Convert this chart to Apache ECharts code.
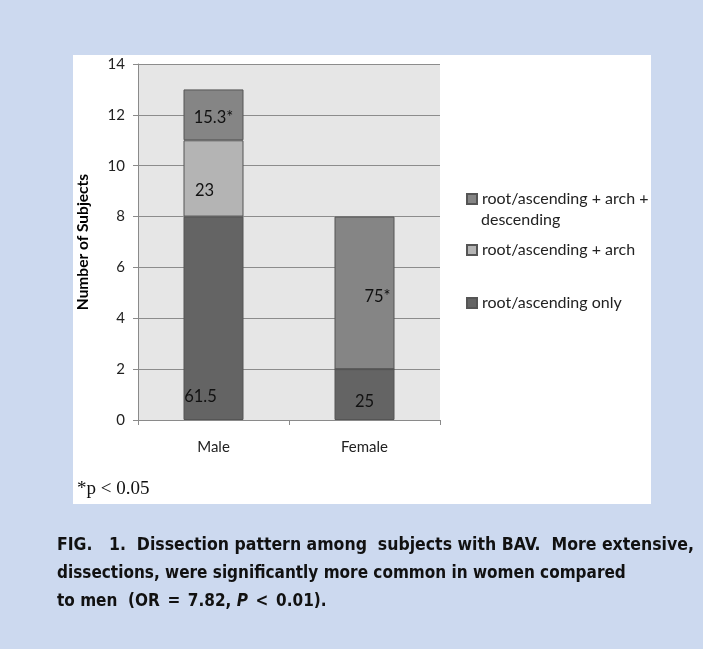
<!DOCTYPE html>
<html>
<head>
<meta charset="utf-8">
<script src="https://cdn.jsdelivr.net/npm/echarts@6/dist/echarts.min.js"></script>
<style>
html,body{margin:0;padding:0;}
#wrap{position:relative;width:703px;height:649px;background:#ccd9ef;overflow:hidden;}
#panel{position:absolute;left:73px;top:55px;width:578px;height:449px;background:#ffffff;}
#chart{position:absolute;left:0;top:0;width:703px;height:649px;}
</style>
</head>
<body>
<div id="wrap"><div id="panel"></div><div id="chart"></div></div>
<script>
// ---- data ----
var categories = ['Male', 'Female'];
var seriesNames = ['root/ascending only', 'root/ascending + arch', 'root/ascending + arch + descending'];
var rootOnly = [8, 2];
var rootArch = [3, 0];
var rootArchDesc = [2, 6];
var rootOnlyLabels = ['61.5', '25'];
var rootArchLabels = ['23', ''];
var rootArchDescLabels = ['15.3*', '75*'];
var yTicks = [0, 2, 4, 6, 8, 10, 12, 14];

// ---- styles ----
var colors = ['#646464', '#b4b4b4', '#858585'];
var labelOffsets = [
  [[-13, 78], [0, 7]],
  [[-9, 12], [0, 0]],
  [[0, 3], [13, 4]]
];
var font = 'Lato, "Open Sans", sans-serif';

var values = [rootOnly, rootArch, rootArchDesc];
var labels = [rootOnlyLabels, rootArchLabels, rootArchDescLabels];

var series = values.map(function (vals, si) {
  return {
    name: seriesNames[si],
    type: 'bar',
    stack: 'total',
    barWidth: 60,
    itemStyle: { color: colors[si], borderColor: '#555555', borderWidth: 1 },
    label: {
      show: true,
      position: 'inside',
      color: '#111',
      fontFamily: font,
      fontSize: 16.5,
      formatter: function (p) { return labels[si][p.dataIndex]; }
    },
    data: vals.map(function (v, di) {
      return { value: v, label: { offset: labelOffsets[si][di] } };
    })
  };
});

var legendTops = [191, 242, 295];
var legendOrder = [2, 1, 0];
var legendDisplay = ['root/ascending + arch +', 'root/ascending + arch', 'root/ascending only'];
var legends = legendOrder.map(function (si, i) {
  return {
    left: 466,
    top: legendTops[i],
    orient: 'vertical',
    itemWidth: 10,
    itemHeight: 10,
    itemGap: 0,
    padding: 0,
    selectedMode: false,
    data: [{ name: seriesNames[si], icon: 'rect' }],
    formatter: function () { return legendDisplay[i]; },
    textStyle: { fontFamily: font, fontSize: 16, color: '#222' }
  };
});

var chart = echarts.init(document.getElementById('chart'), null, { renderer: 'canvas' });
chart.setOption({
  backgroundColor: 'transparent',
  animation: false,
  grid: {
    left: 138, top: 64, width: 302, height: 356,
    show: true, backgroundColor: '#e6e6e6', borderWidth: 0
  },
  legend: legends,
  xAxis: {
    type: 'category',
    data: categories,
    axisLine: { lineStyle: { color: '#8a8a8a', width: 1 } },
    axisTick: { show: true, length: 5, lineStyle: { color: '#8a8a8a' } },
    axisLabel: { color: '#222', fontFamily: font, fontSize: 15, margin: 20 }
  },
  yAxis: {
    type: 'value',
    min: yTicks[0],
    max: yTicks[yTicks.length - 1],
    interval: 2,
    name: 'Number of Subjects',
    nameLocation: 'middle',
    nameGap: 47,
    nameTextStyle: { fontFamily: font, fontSize: 15.5, fontWeight: 'bold', color: '#000' },
    axisLine: { show: true, lineStyle: { color: '#8a8a8a', width: 1 } },
    axisTick: { show: true, length: 5, lineStyle: { color: '#8a8a8a' } },
    axisLabel: { color: '#222', fontFamily: font, fontSize: 15, margin: 13 },
    splitLine: { show: true, lineStyle: { color: '#8c8c8c', width: 1 } }
  },
  series: series,
  graphic: [
    {
      type: 'text', left: 481, top: 212,
      style: { text: 'descending', font: '16px Lato, "Open Sans", sans-serif', fill: '#222' }
    },
    {
      type: 'text', left: 77, top: 480,
      style: { text: '*p < 0.05', font: '19px "Liberation Serif", serif', fill: '#111' }
    },
    {
      type: 'text', left: 57, top: 536,
      style: {
        text: '{a|FIG.   1.  Dissection pattern among  subjects with BAV.  More extensive,}\n' +
              '{b|dissections, were significantly more common in women compared}\n' +
              '{b|to men  (OR\u2002=\u20027.82, }{i|P}{b|\u2002<\u20020.01).}',
        rich: {
          a: { font: 'bold 17.5px "DejaVu Sans Condensed", sans-serif', fill: '#111', lineHeight: 28.5 },
          b: { font: 'bold 17px "DejaVu Sans Condensed", sans-serif', fill: '#111', lineHeight: 28.5 },
          i: { font: 'italic bold 17px "DejaVu Sans Condensed", sans-serif', fill: '#111', lineHeight: 28.5 }
        }
      }
    }
  ]
});
</script>
</body>
</html>
